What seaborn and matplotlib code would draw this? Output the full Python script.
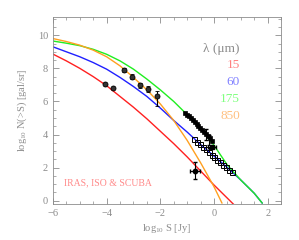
import matplotlib
matplotlib.use("Agg")
import matplotlib.pyplot as plt
import seaborn as sns
import pandas as pd
from matplotlib.ticker import MultipleLocator

# ---- model curves (log10 S [Jy], log10 N(>S) [gal/sr]) ----
red_x = [-6, -5.5, -5, -4.5, -4, -3.5, -3, -2.5, -2, -1.5, -1, -0.5, 0, 0.5, 0.75]
red_y = [8.86, 8.45, 8.0, 7.5, 6.95, 6.3, 5.65, 4.95, 4.2, 3.45, 2.65, 1.8, 0.95, 0.15, -0.25]

blue_x = [-6, -5.5, -5, -4.5, -4, -3.5, -3, -2.5, -2, -1.5, -1, -0.5, 0, 0.5, 1, 1.5, 1.8]
blue_y = [9.3, 9.0, 8.7, 8.35, 7.95, 7.45, 6.9, 6.3, 5.6, 4.85, 4.15, 3.4, 2.7, 2.0, 1.25, 0.45, -0.15]

green_x = [-6, -5.5, -5, -4.5, -4, -3.5, -3, -2.5, -2, -1.5, -1, -0.5, 0, 0.5, 1, 1.5, 1.8]
green_y = [9.65, 9.52, 9.37, 9.15, 8.85, 8.45, 7.95, 7.35, 6.7, 6.0, 5.2, 4.35, 3.35, 2.15, 1.25, 0.45, -0.15]

orange_x = [-6, -5.5, -5, -4.5, -4, -3.5, -3, -2.5, -2, -1.5, -1, -0.5, 0, 0.3]
orange_y = [9.8, 9.62, 9.4, 9.1, 8.7, 8.15, 7.45, 6.7, 5.85, 4.85, 3.65, 2.3, 0.85, -0.15]

# ---- observed counts ----
iso15_x = [-4.06, -3.75]
iso15_y = [7.05, 6.84]
iso15_err = [0.12, 0.1]

scuba_x = [-3.35, -3.06, -2.75, -2.44, -2.13]
scuba_y = [7.9, 7.49, 6.99, 6.75, 6.35]
scuba_err_lo = [0.15, 0.15, 0.15, 0.2, 0.6]
scuba_err_hi = [0.15, 0.15, 0.15, 0.2, 0.3]

iso175_x = [-1.07, -1.0, -0.93, -0.86, -0.79, -0.72, -0.65, -0.58, -0.51, -0.44, -0.37, -0.30, -0.23, -0.16, -0.07]
iso175_y = [5.27, 5.2, 5.12, 5.0, 4.9, 4.78, 4.66, 4.53, 4.42, 4.3, 4.18, 4.05, 3.93, 3.8, 3.59]

iso175e_x = [-0.30, -0.19]
iso175e_y = [4.0, 3.65]
iso175e_err = [0.35, 0.3]

iso175h_x = [-0.07]
iso175h_y = [3.25]
iso175h_xerr = [0.15]

iras60_x = [-0.75, -0.64, -0.53, -0.42, -0.31, -0.2, -0.09, 0.02, 0.13, 0.24, 0.35, 0.46, 0.57, 0.67]
iras60_y = [3.72, 3.56, 3.41, 3.25, 3.1, 2.94, 2.79, 2.63, 2.48, 2.32, 2.17, 2.02, 1.87, 1.73]

bright15_x = [-0.72]
bright15_y = [1.82]
bright15_xerr = [0.19]
bright15_yerr = [0.5]

legend_labels = ["15", "60", "175", "850"]
legend_colors = ["#ff8080", "#8080ff", "#80ff80", "#ffc080"]

sns.set_style("ticks")
plt.rcParams["font.family"] = ["Liberation Serif", "DejaVu Serif"]
plt.rcParams["mathtext.fontset"] = "custom"
plt.rcParams["mathtext.rm"] = "Liberation Serif"
plt.rcParams["mathtext.it"] = "Liberation Serif:italic"

gray = "#8c8c8c"
fig = plt.figure(figsize=(2.99, 2.40), dpi=100)
ax = fig.add_axes([0.177, 0.15, 0.763, 0.779])

curves = [(red_x, red_y, "#ff2020"), (blue_x, blue_y, "#2020ff"),
          (green_x, green_y, "#20ee20"), (orange_x, orange_y, "#ffa020")]
for cx, cy, col in curves:
    df = pd.DataFrame({"x": cx, "y": cy})
    sns.lineplot(data=df, x="x", y="y", color=col, lw=1.0, ax=ax, sort=False)

# points
ax.errorbar(iso15_x, iso15_y, yerr=iso15_err, fmt="o", ms=3.6, mfc="#333333", mec="k", mew=0.6,
            ecolor="k", elinewidth=0.8, capsize=1)

ax.errorbar(scuba_x, scuba_y, yerr=[scuba_err_lo, scuba_err_hi], fmt="o", ms=3.6, mfc="#333333",
            mec="k", mew=0.6, ecolor="k", elinewidth=0.8, capsize=1.2)

ax.plot(iso175_x, iso175_y, ls="none", marker="s", ms=3.0, mfc="k", mec="k", mew=0.5)
ax.errorbar(iso175e_x, iso175e_y, yerr=iso175e_err, fmt="none", ecolor="k", elinewidth=0.8, capsize=1.5)
ax.errorbar(iso175h_x, iso175h_y, xerr=iso175h_xerr, fmt="s", ms=2.6, mfc="k", mec="k",
            ecolor="k", elinewidth=0.8, capsize=1.5)

ax.plot(iras60_x, iras60_y, ls="none", marker="s", ms=3.6, mfc="none", mec="k", mew=0.7)

ax.errorbar(bright15_x, bright15_y, xerr=bright15_xerr, yerr=bright15_yerr, fmt="o", ms=3.2,
            mfc="k", mec="k", ecolor="k", elinewidth=0.8, capsize=1.5)

# text
ax.text(0.97, 9.16, "λ (μm)", color=gray, fontsize=9.5, ha="right", va="center")
for i, (lab, col) in enumerate(zip(legend_labels, legend_colors)):
    ax.text(0.97, 8.2 - 1.02 * i, lab, color=col, fontsize=9.5, ha="right", va="center")
ax.text(-5.6, 1.07, "IRAS, ISO & SCUBA", color="#ff8a8a", fontsize=7, ha="left", va="center")

ax.set_xlim(-6, 2.5)
ax.set_ylim(-0.2, 11.1)
ax.xaxis.set_major_locator(MultipleLocator(2))
ax.xaxis.set_minor_locator(MultipleLocator(0.5))
ax.yaxis.set_major_locator(MultipleLocator(2))
ax.yaxis.set_minor_locator(MultipleLocator(0.5))
ax.tick_params(which="both", direction="in", top=True, right=True, colors=gray, labelsize=7.5)
ax.tick_params(which="major", length=4, width=0.6)
ax.tick_params(which="minor", length=2, width=0.5)
for sp in ax.spines.values():
    sp.set_color(gray)
    sp.set_linewidth(0.6)
    sp.set_visible(True)
ax.set_xlabel(r"$\mathrm{log}_{10}$ S [Jy]", color=gray, fontsize=7.5, labelpad=3)
ax.set_ylabel(r"$\mathrm{log}_{10}$ N(>S) [gal/sr]", color=gray, fontsize=7.5, labelpad=6)

fig.savefig("out.png", dpi=100)
